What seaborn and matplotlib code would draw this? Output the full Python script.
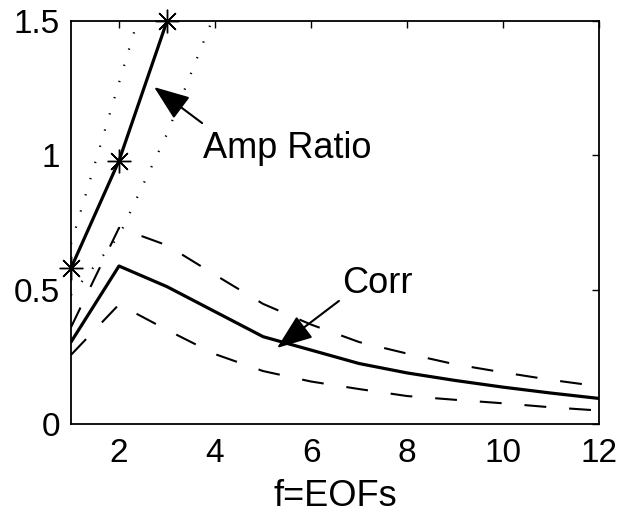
import matplotlib
matplotlib.use("Agg")
import matplotlib.pyplot as plt
import seaborn as sns

# Number of EOFs retained
eofs = [1, 2, 3, 4, 5, 6, 7, 8, 9, 10, 11, 12]

# Correlation: mean and spread bounds
corr_mean = [0.305, 0.588, 0.511, 0.418, 0.325, 0.275, 0.225, 0.19, 0.162, 0.137, 0.115, 0.095]
corr_upper = [0.36, 0.73, 0.665, 0.555, 0.447, 0.37, 0.305, 0.262, 0.222, 0.192, 0.164, 0.14]
corr_lower = [0.257, 0.445, 0.35, 0.26, 0.197, 0.158, 0.13, 0.104, 0.09, 0.077, 0.062, 0.05]

# Amplitude ratio: mean and spread bounds
amp_eofs = [1, 2, 3]
amp_mean = [0.58, 0.98, 1.5]
amp_upper_eofs = [1, 2, 3]
amp_upper = [0.67, 1.27, 1.87]
amp_lower_eofs = [1, 2, 3, 4]
amp_lower = [0.48, 0.70, 1.08, 1.53]

x_ticks = [2, 4, 6, 8, 10, 12]
y_ticks = [0, 0.5, 1, 1.5]
y_tick_labels = ["0", "0.5", "1", "1.5"]

sns.set_theme(style="white")
plt.rcParams["font.family"] = ["Liberation Sans", "DejaVu Sans"]
plt.rcParams["text.color"] = "black"
plt.rcParams["axes.labelcolor"] = "black"
plt.rcParams["axes.linewidth"] = 1.3

fig = plt.figure(figsize=(6.2, 5.18), dpi=100)
ax = fig.add_axes([0.1145, 0.1815, 0.852, 0.778])

dash = (0, (10.5, 11.0))
dot = (0, (0.6, 7.0))

sns.lineplot(x=eofs, y=corr_mean, ax=ax, color="black", lw=2.3)
sns.lineplot(x=eofs, y=corr_upper, ax=ax, color="black", lw=1.5, linestyle=dash)
sns.lineplot(x=eofs, y=corr_lower, ax=ax, color="black", lw=1.5, linestyle=dash)

sns.lineplot(x=amp_upper_eofs, y=amp_upper, ax=ax, color="black", lw=1.6, linestyle=dot)
sns.lineplot(x=amp_lower_eofs, y=amp_lower, ax=ax, color="black", lw=1.6, linestyle=dot)
sns.lineplot(x=amp_eofs, y=amp_mean, ax=ax, color="black", lw=2.3,
             marker=(8, 2, 0), markersize=17, markeredgewidth=1.0,
             markeredgecolor="black", clip_on=False)

ax.set_xlim(1, 12)
ax.set_ylim(0, 1.5)
ax.set_xticks(x_ticks)
ax.set_yticks(y_ticks)
ax.set_yticklabels(y_tick_labels)
ax.tick_params(axis="both", which="both", direction="in", length=5, width=1.0,
               top=True, right=True, labelsize=24, colors="black")
ax.tick_params(axis="x", pad=10)
ax.tick_params(axis="y", pad=8)
for s in ax.spines.values():
    s.set_visible(True)
    s.set_color("black")
ax.set_xlabel("f=EOFs", fontsize=26, labelpad=7)

arrow = dict(arrowstyle="-|>,head_length=1.0,head_width=0.38", color="black",
             lw=1.5, shrinkA=0, shrinkB=0, mutation_scale=22)
ax.annotate("", xy=(2.73, 1.254), xytext=(3.73, 1.12), arrowprops=arrow)
ax.annotate("", xy=(5.29, 0.283), xytext=(6.58, 0.458), arrowprops=arrow)
ax.text(3.75, 0.99, "Amp Ratio", fontsize=26, ha="left", va="baseline")
ax.text(6.65, 0.488, "Corr", fontsize=26, ha="left", va="baseline")

fig.savefig("out.png", dpi=100)
